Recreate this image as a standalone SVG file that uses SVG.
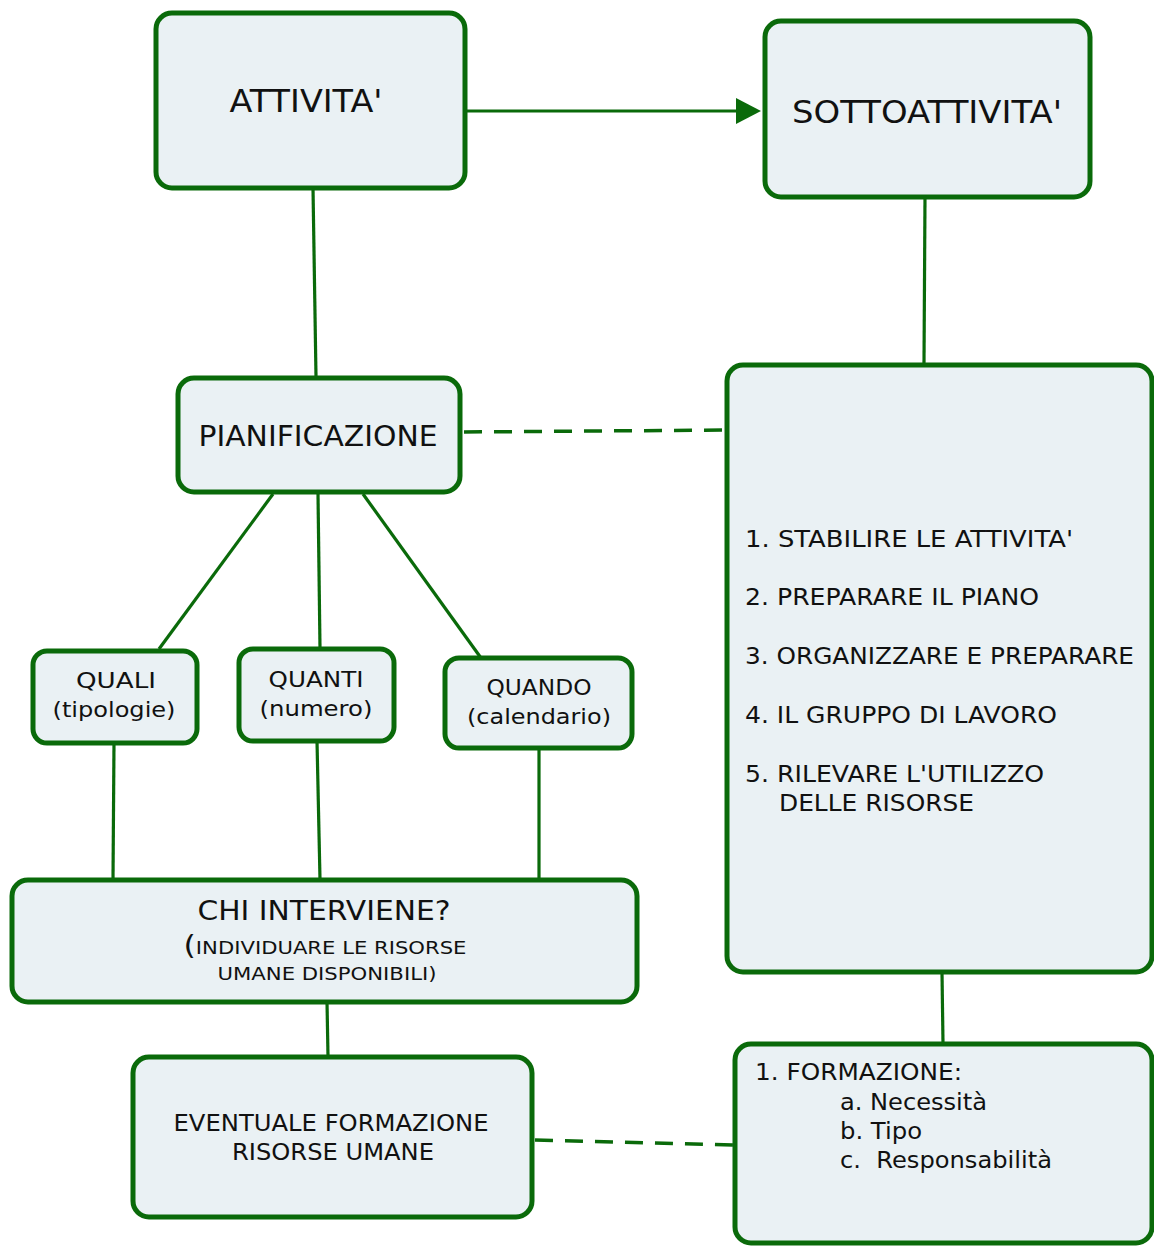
<svg xmlns="http://www.w3.org/2000/svg" width="1154" height="1247" viewBox="0 0 1154 1247">
<defs>
<style>
.box{fill:#eaf1f4;stroke:#0a6a0a;stroke-width:5}
.ln{stroke:#0a6a0a;stroke-width:3.2;fill:none}
.dash{stroke:#0a6a0a;stroke-width:3.5;fill:none;stroke-dasharray:18 12}
text{font-family:"DejaVu Sans",Verdana,sans-serif;fill:#111}
.c{text-anchor:middle}
.big{font-size:32px}
.mid{font-size:29px}
.lst{font-size:23px}
.sm{font-size:21px}
</style>
</defs>
<g id="connectors">
<line class="ln" x1="467" y1="111" x2="740" y2="111"/>
<path d="M736,98 L761,111 L736,124 z" fill="#0a6a0a"/>
<line class="ln" x1="313" y1="188" x2="316" y2="377"/>
<line class="ln" x1="925" y1="197" x2="924" y2="364"/>
<line class="dash" x1="464" y1="432" x2="726" y2="430"/>
<line class="ln" x1="273" y1="494" x2="159" y2="649"/>
<line class="ln" x1="318" y1="494" x2="320" y2="648"/>
<line class="ln" x1="363" y1="494" x2="481" y2="658"/>
<line class="ln" x1="114" y1="743" x2="113" y2="879"/>
<line class="ln" x1="317" y1="741" x2="320" y2="879"/>
<line class="ln" x1="539" y1="748" x2="539" y2="879"/>
<line class="ln" x1="327" y1="1002" x2="328" y2="1056"/>
<line class="ln" x1="942" y1="972" x2="943" y2="1043"/>
<line class="dash" x1="535" y1="1140" x2="734" y2="1145"/>
</g>
<g id="attivita">
<rect class="box" x="156" y="13" width="309" height="175" rx="16"/>
<text class="c big" x="306" y="112" textLength="153" lengthAdjust="spacingAndGlyphs">ATTIVITA'</text>
</g>
<g id="sottoattivita">
<rect class="box" x="765" y="21" width="325" height="176" rx="16"/>
<text class="c big" x="927" y="123" textLength="270" lengthAdjust="spacingAndGlyphs">SOTTOATTIVITA'</text>
</g>
<g id="pianificazione">
<rect class="box" x="178" y="378" width="282" height="114" rx="16"/>
<text class="c mid" x="318" y="446" textLength="239" lengthAdjust="spacingAndGlyphs">PIANIFICAZIONE</text>
</g>
<g id="elenco">
<rect class="box" x="727" y="365" width="425" height="607" rx="16"/>
<text class="lst" x="745" y="547" textLength="328" lengthAdjust="spacingAndGlyphs">1. STABILIRE LE ATTIVITA'</text>
<text class="lst" x="745" y="605" textLength="294" lengthAdjust="spacingAndGlyphs">2. PREPARARE IL PIANO</text>
<text class="lst" x="745" y="664" textLength="389" lengthAdjust="spacingAndGlyphs">3. ORGANIZZARE E PREPARARE</text>
<text class="lst" x="745" y="723" textLength="312" lengthAdjust="spacingAndGlyphs">4. IL GRUPPO DI LAVORO</text>
<text class="lst" x="745" y="782" textLength="299" lengthAdjust="spacingAndGlyphs">5. RILEVARE L'UTILIZZO</text>
<text class="lst" x="779" y="811" textLength="195" lengthAdjust="spacingAndGlyphs">DELLE RISORSE</text>
</g>
<g id="quali">
<rect class="box" x="33" y="651" width="164" height="92" rx="14"/>
<text class="c sm" x="116" y="688" textLength="80" lengthAdjust="spacingAndGlyphs">QUALI</text>
<text class="c sm" x="114" y="717" textLength="123" lengthAdjust="spacingAndGlyphs">(tipologie)</text>
</g>
<g id="quanti">
<rect class="box" x="239" y="649" width="155" height="92" rx="14"/>
<text class="c sm" x="316" y="687" textLength="95" lengthAdjust="spacingAndGlyphs">QUANTI</text>
<text class="c sm" x="316" y="716" textLength="113" lengthAdjust="spacingAndGlyphs">(numero)</text>
</g>
<g id="quando">
<rect class="box" x="445" y="658" width="187" height="90" rx="14"/>
<text class="c sm" x="539" y="695" textLength="105" lengthAdjust="spacingAndGlyphs">QUANDO</text>
<text class="c sm" x="539" y="724" textLength="144" lengthAdjust="spacingAndGlyphs">(calendario)</text>
</g>
<g id="chi">
<rect class="box" x="12" y="880" width="625" height="122" rx="16"/>
<text class="c" x="324" y="920" font-size="27" textLength="253" lengthAdjust="spacingAndGlyphs">CHI INTERVIENE?</text>
<text class="c" x="325" y="954" font-size="18" textLength="283" lengthAdjust="spacingAndGlyphs"><tspan font-size="27">(</tspan>INDIVIDUARE LE RISORSE</text>
<text class="c" x="327" y="980" font-size="18" textLength="219" lengthAdjust="spacingAndGlyphs">UMANE DISPONIBILI)</text>
</g>
<g id="eventuale">
<rect class="box" x="133" y="1057" width="399" height="160" rx="16"/>
<text class="c lst" x="331" y="1131" textLength="315" lengthAdjust="spacingAndGlyphs">EVENTUALE FORMAZIONE</text>
<text class="c lst" x="333" y="1160" textLength="202" lengthAdjust="spacingAndGlyphs">RISORSE UMANE</text>
</g>
<g id="formazione">
<rect class="box" x="735" y="1044" width="417" height="199" rx="16"/>
<text class="lst" x="755" y="1080" textLength="207" lengthAdjust="spacingAndGlyphs">1. FORMAZIONE:</text>
<text class="lst" x="840" y="1110" textLength="147" lengthAdjust="spacingAndGlyphs">a. Necessità</text>
<text class="lst" x="840" y="1139" textLength="82" lengthAdjust="spacingAndGlyphs">b. Tipo</text>
<text class="lst" x="840" y="1168" textLength="212" lengthAdjust="spacingAndGlyphs" xml:space="preserve">c.  Responsabilità</text>
</g>
</svg>
